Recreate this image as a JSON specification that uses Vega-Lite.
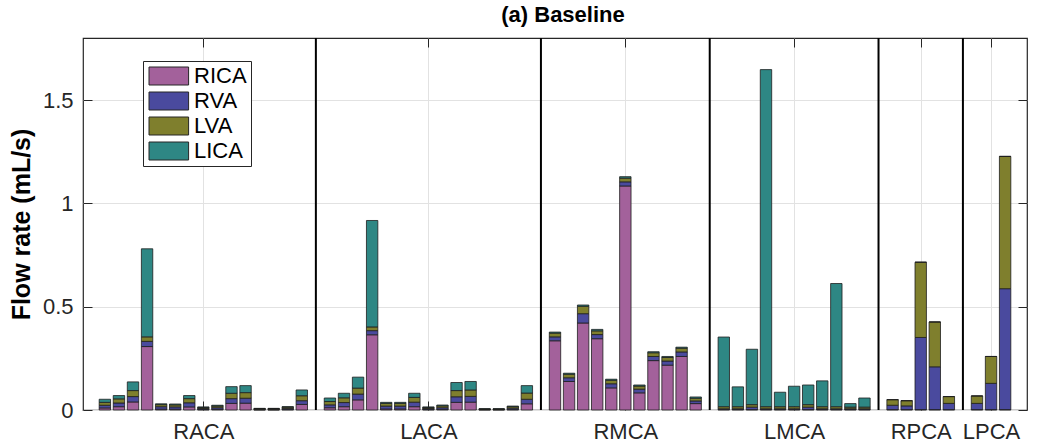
{
  "$schema": "https://vega.github.io/schema/vega-lite/v6.json",
  "width": 944,
  "height": 372,
  "autosize": {"type": "none"},
  "padding": {"left": 83, "top": 38, "right": 37, "bottom": 36},
  "background": "white",
  "config": {
    "font": "Liberation Sans",
    "view": {"stroke": "#262626", "strokeWidth": 1.2},
    "axis": {
      "domain": false,
      "labelFont": "Liberation Sans",
      "labelFontSize": 22,
      "labelColor": "#262626",
      "tickColor": "#262626",
      "tickSize": -9,
      "tickWidth": 1,
      "gridColor": "#e2e2e2",
      "gridWidth": 1,
      "titleFont": "Liberation Sans"
    },
    "title": {"font": "Liberation Sans"}
  },
  "title": {
    "text": "(a) Baseline",
    "fontSize": 22,
    "fontWeight": "bold",
    "color": "#000000",
    "anchor": "middle",
    "frame": "group",
    "offset": 10,
    "dx": 8
  },
  "datasets": {
    "bars": [
      {"pos": 1, "territory": "RACA", "RICA": 0.010, "RVA": 0.013, "LVA": 0.014, "LICA": 0.015},
      {"pos": 2, "territory": "RACA", "RICA": 0.016, "RVA": 0.018, "LVA": 0.020, "LICA": 0.016},
      {"pos": 3, "territory": "RACA", "RICA": 0.039, "RVA": 0.026, "LVA": 0.029, "LICA": 0.042},
      {"pos": 4, "territory": "RACA", "RICA": 0.307, "RVA": 0.025, "LVA": 0.022, "LICA": 0.426},
      {"pos": 5, "territory": "RACA", "RICA": 0.004, "RVA": 0.012, "LVA": 0.010, "LICA": 0.004},
      {"pos": 6, "territory": "RACA", "RICA": 0.004, "RVA": 0.011, "LVA": 0.010, "LICA": 0.004},
      {"pos": 7, "territory": "RACA", "RICA": 0.015, "RVA": 0.020, "LVA": 0.020, "LICA": 0.015},
      {"pos": 8, "territory": "RACA", "RICA": 0.002, "RVA": 0.005, "LVA": 0.005, "LICA": 0.003},
      {"pos": 9, "territory": "RACA", "RICA": 0.003, "RVA": 0.008, "LVA": 0.008, "LICA": 0.004},
      {"pos": 10, "territory": "RACA", "RICA": 0.032, "RVA": 0.023, "LVA": 0.026, "LICA": 0.032},
      {"pos": 11, "territory": "RACA", "RICA": 0.033, "RVA": 0.024, "LVA": 0.027, "LICA": 0.034},
      {"pos": 12, "territory": "RACA", "RICA": 0.001, "RVA": 0.003, "LVA": 0.003, "LICA": 0.001},
      {"pos": 13, "territory": "RACA", "RICA": 0.001, "RVA": 0.003, "LVA": 0.003, "LICA": 0.001},
      {"pos": 14, "territory": "RACA", "RICA": 0.002, "RVA": 0.006, "LVA": 0.006, "LICA": 0.002},
      {"pos": 15, "territory": "RACA", "RICA": 0.027, "RVA": 0.018, "LVA": 0.024, "LICA": 0.028},
      {"pos": 17, "territory": "LACA", "RICA": 0.011, "RVA": 0.014, "LVA": 0.016, "LICA": 0.017},
      {"pos": 18, "territory": "LACA", "RICA": 0.016, "RVA": 0.020, "LVA": 0.023, "LICA": 0.022},
      {"pos": 19, "territory": "LACA", "RICA": 0.049, "RVA": 0.028, "LVA": 0.029, "LICA": 0.053},
      {"pos": 20, "territory": "LACA", "RICA": 0.364, "RVA": 0.020, "LVA": 0.018, "LICA": 0.515},
      {"pos": 21, "territory": "LACA", "RICA": 0.005, "RVA": 0.014, "LVA": 0.013, "LICA": 0.005},
      {"pos": 22, "territory": "LACA", "RICA": 0.005, "RVA": 0.014, "LVA": 0.013, "LICA": 0.005},
      {"pos": 23, "territory": "LACA", "RICA": 0.016, "RVA": 0.022, "LVA": 0.023, "LICA": 0.020},
      {"pos": 24, "territory": "LACA", "RICA": 0.002, "RVA": 0.005, "LVA": 0.005, "LICA": 0.003},
      {"pos": 25, "territory": "LACA", "RICA": 0.003, "RVA": 0.008, "LVA": 0.009, "LICA": 0.004},
      {"pos": 26, "territory": "LACA", "RICA": 0.037, "RVA": 0.027, "LVA": 0.030, "LICA": 0.039},
      {"pos": 27, "territory": "LACA", "RICA": 0.038, "RVA": 0.028, "LVA": 0.031, "LICA": 0.041},
      {"pos": 28, "territory": "LACA", "RICA": 0.001, "RVA": 0.002, "LVA": 0.002, "LICA": 0.001},
      {"pos": 29, "territory": "LACA", "RICA": 0.001, "RVA": 0.002, "LVA": 0.002, "LICA": 0.001},
      {"pos": 30, "territory": "LACA", "RICA": 0.002, "RVA": 0.007, "LVA": 0.007, "LICA": 0.003},
      {"pos": 31, "territory": "LACA", "RICA": 0.030, "RVA": 0.022, "LVA": 0.030, "LICA": 0.036},
      {"pos": 33, "territory": "RMCA", "RICA": 0.335, "RVA": 0.019, "LVA": 0.018, "LICA": 0.005},
      {"pos": 34, "territory": "RMCA", "RICA": 0.138, "RVA": 0.018, "LVA": 0.017, "LICA": 0.005},
      {"pos": 35, "territory": "RMCA", "RICA": 0.421, "RVA": 0.045, "LVA": 0.036, "LICA": 0.006},
      {"pos": 36, "territory": "RMCA", "RICA": 0.345, "RVA": 0.020, "LVA": 0.018, "LICA": 0.007},
      {"pos": 37, "territory": "RMCA", "RICA": 0.107, "RVA": 0.020, "LVA": 0.017, "LICA": 0.005},
      {"pos": 38, "territory": "RMCA", "RICA": 1.084, "RVA": 0.020, "LVA": 0.018, "LICA": 0.007},
      {"pos": 39, "territory": "RMCA", "RICA": 0.083, "RVA": 0.018, "LVA": 0.015, "LICA": 0.005},
      {"pos": 40, "territory": "RMCA", "RICA": 0.239, "RVA": 0.020, "LVA": 0.018, "LICA": 0.005},
      {"pos": 41, "territory": "RMCA", "RICA": 0.217, "RVA": 0.020, "LVA": 0.017, "LICA": 0.005},
      {"pos": 42, "territory": "RMCA", "RICA": 0.259, "RVA": 0.022, "LVA": 0.018, "LICA": 0.005},
      {"pos": 43, "territory": "RMCA", "RICA": 0.031, "RVA": 0.013, "LVA": 0.013, "LICA": 0.006},
      {"pos": 45, "territory": "LMCA", "RICA": 0.002, "RVA": 0.004, "LVA": 0.010, "LICA": 0.337},
      {"pos": 46, "territory": "LMCA", "RICA": 0.002, "RVA": 0.004, "LVA": 0.010, "LICA": 0.096},
      {"pos": 47, "territory": "LMCA", "RICA": 0.002, "RVA": 0.012, "LVA": 0.012, "LICA": 0.268},
      {"pos": 48, "territory": "LMCA", "RICA": 0.002, "RVA": 0.004, "LVA": 0.010, "LICA": 1.631},
      {"pos": 49, "territory": "LMCA", "RICA": 0.002, "RVA": 0.004, "LVA": 0.010, "LICA": 0.070},
      {"pos": 50, "territory": "LMCA", "RICA": 0.002, "RVA": 0.004, "LVA": 0.010, "LICA": 0.099},
      {"pos": 51, "territory": "LMCA", "RICA": 0.002, "RVA": 0.012, "LVA": 0.012, "LICA": 0.095},
      {"pos": 52, "territory": "LMCA", "RICA": 0.002, "RVA": 0.004, "LVA": 0.010, "LICA": 0.125},
      {"pos": 53, "territory": "LMCA", "RICA": 0.002, "RVA": 0.004, "LVA": 0.010, "LICA": 0.596},
      {"pos": 54, "territory": "LMCA", "RICA": 0.002, "RVA": 0.004, "LVA": 0.008, "LICA": 0.017},
      {"pos": 55, "territory": "LMCA", "RICA": 0.002, "RVA": 0.004, "LVA": 0.008, "LICA": 0.044},
      {"pos": 57, "territory": "RPCA", "RICA": 0.002, "RVA": 0.021, "LVA": 0.027, "LICA": 0.0},
      {"pos": 58, "territory": "RPCA", "RICA": 0.002, "RVA": 0.018, "LVA": 0.025, "LICA": 0.0},
      {"pos": 59, "territory": "RPCA", "RICA": 0.002, "RVA": 0.349, "LVA": 0.364, "LICA": 0.0},
      {"pos": 60, "territory": "RPCA", "RICA": 0.002, "RVA": 0.207, "LVA": 0.217, "LICA": 0.0},
      {"pos": 61, "territory": "RPCA", "RICA": 0.002, "RVA": 0.030, "LVA": 0.033, "LICA": 0.0},
      {"pos": 63, "territory": "LPCA", "RICA": 0.002, "RVA": 0.030, "LVA": 0.036, "LICA": 0.0},
      {"pos": 64, "territory": "LPCA", "RICA": 0.002, "RVA": 0.127, "LVA": 0.130, "LICA": 0.0},
      {"pos": 65, "territory": "LPCA", "RICA": 0.002, "RVA": 0.585, "LVA": 0.640, "LICA": 0.0}
    ],
    "sourceOrder": [
      {"source": "RICA", "k": 1},
      {"source": "RVA", "k": 2},
      {"source": "LVA", "k": 3},
      {"source": "LICA", "k": 4}
    ],
    "separators": [
      {"pos": 16}, {"pos": 32}, {"pos": 44}, {"pos": 56}, {"pos": 62}
    ],
    "rightAxis": [
      {"v": 0}, {"v": 1.8}
    ]
  },
  "resolve": {"axis": {"x": "independent", "y": "independent"}},
  "layer": [
    {
      "data": {"name": "bars"},
      "transform": [
        {"fold": ["RICA", "RVA", "LVA", "LICA"], "as": ["source", "value"]},
        {"lookup": "source", "from": {"data": {"name": "sourceOrder"}, "key": "source", "fields": ["k"]}}
      ],
      "mark": {"type": "bar", "width": 11.4, "stroke": "#1e1e1e", "strokeWidth": 0.8, "opacity": 1},
      "encoding": {
        "x": {
          "field": "pos",
          "type": "quantitative",
          "scale": {"domain": [-0.2, 66.2], "nice": false, "zero": false},
          "axis": {
            "orient": "bottom",
            "values": [8, 24, 38, 50, 59, 64],
            "labelExpr": "({'8':'RACA','24':'LACA','38':'RMCA','50':'LMCA','59':'RPCA','64':'LPCA'})[datum.value + '']",
            "grid": true,
            "title": null,
            "labelPadding": 20
          }
        },
        "y": {
          "field": "value",
          "type": "quantitative",
          "stack": "zero",
          "scale": {"domain": [0, 1.8], "nice": false},
          "axis": {
            "orient": "left",
            "values": [0, 0.5, 1, 1.5],
            "format": "~g",
            "grid": true,
            "title": "Flow rate (mL/s)",
            "titleFontSize": 25,
            "titleFontWeight": "bold",
            "titleColor": "#000000",
            "titlePadding": 8,
            "labelPadding": 19
          }
        },
        "color": {
          "field": "source",
          "type": "nominal",
          "scale": {
            "domain": ["RICA", "RVA", "LVA", "LICA"],
            "range": ["#a3619b", "#4a4a9e", "#7f7f2d", "#2e8784"]
          },
          "legend": {
            "title": null,
            "orient": "none",
            "legendX": 60,
            "legendY": 23,
            "direction": "vertical",
            "fillColor": "white",
            "strokeColor": "#262626",
            "padding": 4,
            "rowPadding": 3,
            "symbolType": "M-1,-1H3.4V1H-1Z",
            "symbolSize": 324,
            "symbolStrokeColor": "#262626",
            "symbolStrokeWidth": 1,
            "symbolOpacity": 1,
            "labelOffset": 25,
            "labelFontSize": 22,
            "labelColor": "#000000",
            "labelFont": "Liberation Sans"
          }
        },
        "order": {"field": "k", "type": "quantitative", "sort": "ascending"}
      }
    },
    {
      "data": {"name": "separators"},
      "mark": {"type": "rule", "color": "#000000", "strokeWidth": 2},
      "encoding": {
        "x": {
          "field": "pos",
          "type": "quantitative",
          "scale": {"domain": [-0.2, 66.2], "nice": false, "zero": false},
          "axis": {
            "orient": "top",
            "values": [8, 24, 38, 50, 59, 64],
            "labels": false,
            "grid": false,
            "title": null,
            "zindex": 1
          }
        }
      }
    },
    {
      "data": {"name": "rightAxis"},
      "mark": {"type": "rule", "strokeOpacity": 0},
      "encoding": {
        "y": {
          "field": "v",
          "type": "quantitative",
          "scale": {"domain": [0, 1.8], "nice": false},
          "axis": {
            "orient": "right",
            "values": [0, 0.5, 1, 1.5],
            "labels": false,
            "grid": false,
            "title": null,
            "zindex": 1
          }
        }
      }
    }
  ]
}
